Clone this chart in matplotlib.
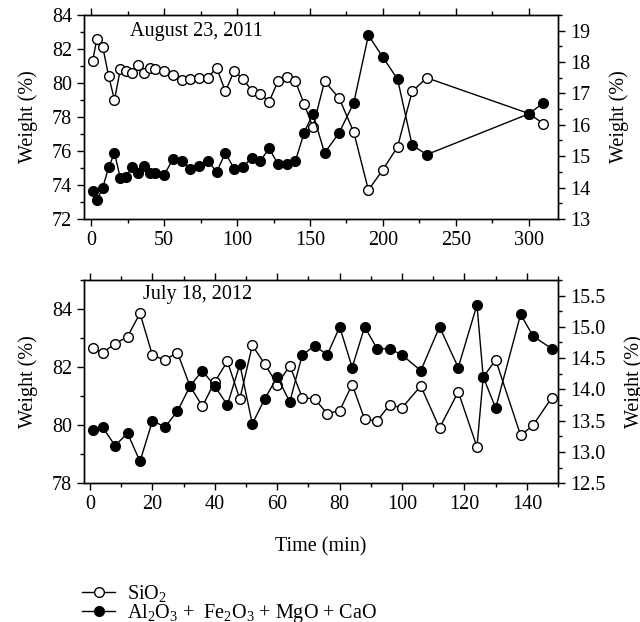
import numpy as np
import matplotlib.pyplot as plt
from matplotlib.lines import Line2D
from matplotlib.ticker import MultipleLocator

plt.rcParams['font.family'] = 'Liberation Serif'
plt.rcParams['mathtext.fontset'] = 'custom'
plt.rcParams['mathtext.rm'] = 'Liberation Serif'
plt.rcParams['mathtext.it'] = 'Liberation Serif:italic'
plt.rcParams['font.size'] = 14.5

# August 23, 2011
t_2011 = [1, 4, 8, 12, 16, 20, 24, 28, 32, 36, 40, 44, 50, 56, 62, 68, 74, 80, 86, 92,
          98, 104, 110, 116, 122, 128, 134, 140, 146, 152, 160, 170, 180, 190, 200, 210,
          220, 230, 300, 310]
sio2_2011 = [81.3, 82.6, 82.1, 80.4, 79.0, 80.8, 80.7, 80.6, 81.05, 80.6, 80.85, 80.8,
             80.7, 80.45, 80.15, 80.25, 80.3, 80.3, 80.9, 79.5, 80.7, 80.25, 79.55, 79.35,
             78.9, 80.1, 80.35, 80.1, 78.75, 77.4, 80.1, 79.1, 77.1, 73.7, 74.9, 76.25,
             79.5, 80.3, 78.2, 77.6]
oxides_2011 = [13.9, 13.6, 14.0, 14.65, 15.1, 14.3, 14.35, 14.65, 14.45, 14.7, 14.45, 14.45,
               14.4, 14.9, 14.85, 14.6, 14.7, 14.85, 14.5, 15.1, 14.6, 14.65, 14.95, 14.85,
               15.25, 14.75, 14.75, 14.85, 15.75, 16.35, 15.1, 15.75, 16.7, 18.85, 18.15,
               17.45, 15.35, 15.05, 16.35, 16.7]

# July 18, 2012
t_2012 = [1, 4, 8, 12, 16, 20, 24, 28, 32, 36, 40, 44, 48, 52, 56, 60, 64, 68, 72, 76,
          80, 84, 88, 92, 96, 100, 106, 112, 118, 124, 126, 130, 138, 142, 148]
sio2_2012 = [82.65, 82.5, 82.8, 83.05, 83.85, 82.4, 82.25, 82.5, 81.35, 80.65, 81.5, 82.2,
             80.9, 82.75, 82.1, 81.4, 82.05, 80.95, 80.9, 80.4, 80.5, 81.4, 80.2, 80.15,
             80.7, 80.6, 81.35, 79.9, 81.15, 79.25, 81.65, 82.25, 79.65, 80.0, 80.95]
oxides_2012 = [13.35, 13.4, 13.1, 13.3, 12.85, 13.5, 13.4, 13.65, 14.05, 14.3, 14.05, 13.75,
               14.4, 13.45, 13.85, 14.2, 13.8, 14.55, 14.7, 14.55, 15.0, 14.35, 15.0, 14.65,
               14.65, 14.55, 14.3, 15.0, 14.35, 15.35, 14.2, 13.7, 15.2, 14.85, 14.65]

open_style = dict(color='black', lw=1, marker='o', ms=7, mfc='white', mec='black', mew=1)
fill_style = dict(color='black', lw=1, marker='o', ms=7, mfc='black', mec='black')

fig = plt.figure(figsize=(6.4, 6.22), dpi=100)
ax1 = fig.add_axes([0.131, 0.648, 0.741, 0.328])
ax2 = fig.add_axes([0.131, 0.223, 0.741, 0.327])


def setup(ax, axr, xlim, ylim, rlim, xmaj, xmin, ymaj, ymin, rmaj, rmin):
    ax.set_xlim(*xlim)
    ax.set_ylim(*ylim)
    axr.set_ylim(*rlim)
    ax.xaxis.set_major_locator(MultipleLocator(xmaj))
    ax.xaxis.set_minor_locator(MultipleLocator(xmin))
    ax.yaxis.set_major_locator(MultipleLocator(ymaj))
    ax.yaxis.set_minor_locator(MultipleLocator(ymin))
    axr.yaxis.set_major_locator(MultipleLocator(rmaj))
    axr.yaxis.set_minor_locator(MultipleLocator(rmin))
    ax.tick_params(which='major', direction='out', length=5, width=1)
    ax.tick_params(which='minor', direction='out', length=3, width=1)
    ax.tick_params(axis='x', which='both', top=True)
    axr.tick_params(which='major', direction='out', length=5, width=1)
    axr.tick_params(which='minor', direction='out', length=3, width=1)
    ax.set_ylabel('Weight (%)', labelpad=10)
    axr.set_ylabel('Weight (%)', labelpad=14)
    for a in (ax, axr):
        for s in a.spines.values():
            s.set_linewidth(1)


ax1r = ax1.twinx()
ax1.plot(t_2011, sio2_2011, **open_style)
ax1r.plot(t_2011, oxides_2011, **fill_style)
setup(ax1, ax1r, (-5, 320), (72, 84), (13, 19.5), 50, 25, 2, 1, 1, 0.5)
ax1.text(0.097, 0.917, 'August 23, 2011', transform=ax1.transAxes, va='center')

ax2r = ax2.twinx()
ax2.plot(t_2012, sio2_2012, **open_style)
ax2r.plot(t_2012, oxides_2012, **fill_style)
setup(ax2, ax2r, (-2, 150), (78, 85), (12.5, 15.75), 20, 10, 2, 1, 0.5, 0.25)
ax2r.yaxis.set_major_formatter(plt.FormatStrFormatter('%.1f'))
ax2.text(0.124, 0.926, 'July 18, 2012', transform=ax2.transAxes, va='center')
ax2.set_xlabel('Time (min)', labelpad=17)

handles = [Line2D([], [], **open_style), Line2D([], [], **fill_style)]
labels = ['SiO$_2$', 'Al$_2$O$_3$ +  Fe$_2$O$_3$ + MgO + CaO']
fig.legend(handles, labels, loc='upper left', bbox_to_anchor=(0.128, 0.062),
           frameon=False, handlelength=1.65, handletextpad=0.6, labelspacing=-0.12,
           borderaxespad=0, borderpad=0, bbox_transform=fig.transFigure)

fig.savefig('out.png', dpi=100)
